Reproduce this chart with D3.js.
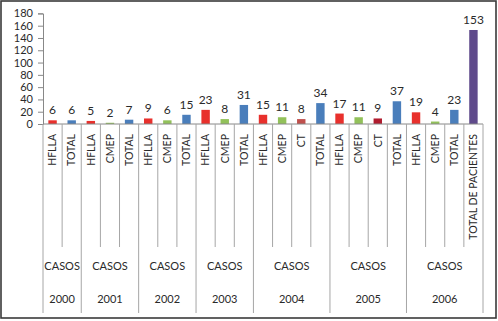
<!DOCTYPE html>
<html>
<head>
<meta charset="utf-8">
<script src="https://cdn.jsdelivr.net/npm/d3@7"></script>
<style>
  body { margin: 0; background: #fff; }
  text { font-family: Lato, "Open Sans", sans-serif; fill: #2a2a2a; }
</style>
</head>
<body>
<div class="chart"></div>
<script>
// categories, in order, with the year group each one belongs to
const categories = ["HFLLA", "TOTAL", "HFLLA", "CMEP", "TOTAL", "HFLLA", "CMEP", "TOTAL",
  "HFLLA", "CMEP", "TOTAL", "HFLLA", "CMEP", "CT", "TOTAL", "HFLLA", "CMEP", "CT", "TOTAL",
  "HFLLA", "CMEP", "TOTAL", "TOTAL DE PACIENTES"];
const values = [6, 6, 5, 2, 7, 9, 6, 15, 23, 8, 31, 15, 11, 8, 34, 17, 11, 9, 37, 19, 4, 23, 153];
const years = ["2000", "2001", "2002", "2003", "2004", "2005", "2006"];
const yearSizes = [2, 3, 3, 3, 4, 4, 4]; // 2006 span also covers the last (blank parent) category
const groupLabel = "CASOS";
const yTicks = [0, 20, 40, 60, 80, 100, 120, 140, 160, 180];

const colors = {
  "HFLLA": "#E8302C",
  "TOTAL": "#4A7EBB",
  "CMEP": "#92C15A",
  "TOTAL DE PACIENTES": "#5F4A8B"
}
// the two CT bars differ in shade
const ctColors = ["#C0504D", "#B01C2E"];

const width = 498, height = 321;
const svg = d3.select(".chart").append("svg")
  .attr("width", width)
  .attr("height", height);

// frame
svg.append("rect")
  .attr("x", 1).attr("y", 1)
  .attr("width", width - 3).attr("height", height - 4)
  .attr("fill", "none")
  .attr("stroke", "#3a3a3a")
  .attr("stroke-width", 1.6);

const x0 = 43, x1 = 483, yTop = 13.4, yZero = 124;

const x = d3.scaleBand()
  .domain(d3.range(categories.length))
  .range([x0, x1])
  .paddingInner(0.56)
  .paddingOuter(0.28);

const y = d3.scaleLinear()
  .domain([0, 180])
  .range([yZero, yTop]);

// y axis
const yAxis = svg.append("g")
  .attr("transform", `translate(${x0},0)`)
  .call(d3.axisLeft(y).tickValues(yTicks).tickSize(5).tickPadding(5));
yAxis.select(".domain").attr("stroke", "#888");
yAxis.selectAll(".tick line").attr("stroke", "#888");
yAxis.selectAll(".tick text")
  .style("font-size", "11px")
  .style("font-family", "Lato, sans-serif")
  .attr("fill", "#2a2a2a");

// bars
let ctCount = 0;
const barColor = categories.map(c => c === "CT" ? ctColors[ctCount++] : colors[c]);

svg.selectAll(".bar")
  .data(values)
  .join("rect")
  .attr("class", "bar")
  .attr("x", (d, i) => x(i))
  .attr("width", x.bandwidth())
  .attr("y", d => y(d))
  .attr("height", d => yZero - y(d))
  .attr("fill", (d, i) => barColor[i]);

// data labels
svg.selectAll(".lbl")
  .data(values)
  .join("text")
  .attr("class", "lbl")
  .attr("x", (d, i) => x(i) + x.bandwidth() / 2)
  .attr("y", d => y(d) - 6)
  .attr("text-anchor", "middle")
  .style("font-size", "12px")
  .text(d => d);

// category axis line
const step = (x1 - x0) / categories.length;
svg.append("line")
  .attr("x1", x0).attr("x2", x1)
  .attr("y1", yZero).attr("y2", yZero)
  .attr("stroke", "#888");

// separators: short inside a group, long at group edges
const groupEdges = [0];
yearSizes.forEach(n => groupEdges.push(groupEdges[groupEdges.length - 1] + n));
const rowShort = 247, rowBottom = 313;
d3.range(categories.length + 1).forEach(i => {
  const isEdge = groupEdges.includes(i);
  svg.append("line")
    .attr("x1", x0 + i * step).attr("x2", x0 + i * step)
    .attr("y1", yZero).attr("y2", isEdge ? rowBottom : rowShort)
    .attr("stroke", "#a6a6a6");
});

// rotated category labels
svg.selectAll(".cat")
  .data(categories)
  .join("text")
  .attr("class", "cat")
  .attr("transform", (d, i) => `translate(${x0 + (i + 0.5) * step + 3.8},${yZero + 10}) rotate(-90)`)
  .attr("text-anchor", "end")
  .style("font-size", "10.5px")
  .text(d => d);

// group labels
svg.selectAll(".grp")
  .data(years)
  .join("text")
  .attr("class", "grp")
  .attr("x", (d, i) => x0 + (groupEdges[i] + groupEdges[i + 1]) / 2 * step)
  .attr("y", 270)
  .attr("text-anchor", "middle")
  .style("font-size", "11px")
  .text(groupLabel);

svg.selectAll(".yr")
  .data(years)
  .join("text")
  .attr("class", "yr")
  .attr("x", (d, i) => x0 + (groupEdges[i] + groupEdges[i + 1]) / 2 * step)
  .attr("y", 303)
  .attr("text-anchor", "middle")
  .style("font-size", "11px")
  .text(d => d);
</script>
</body>
</html>
